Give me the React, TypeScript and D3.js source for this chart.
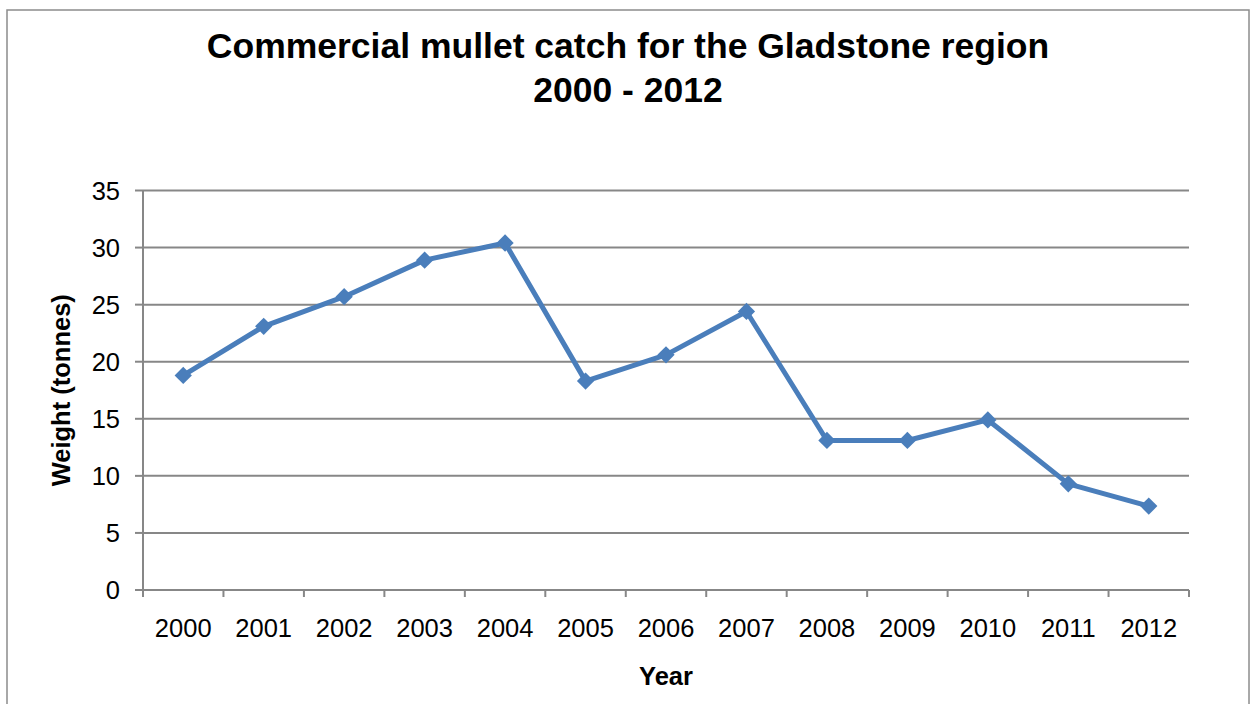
import React from "react";
import * as d3 from "d3";

const years = ["2000", "2001", "2002", "2003", "2004", "2005", "2006", "2007", "2008", "2009", "2010", "2011", "2012"];
const catchTonnes = [18.8, 23.1, 25.7, 28.9, 30.4, 18.3, 20.6, 24.4, 13.1, 13.1, 14.9, 9.3, 7.35];
const yTicks = [0, 5, 10, 15, 20, 25, 30, 35];
const titleLines = ["Commercial mullet catch for the Gladstone region", "2000 - 2012"];
const xTitle = "Year";
const yTitle = "Weight (tonnes)";

const W = 1250;
const H = 704;
const plot = { left: 143, right: 1189, top: 190.5, bottom: 590 };
const font = "'Liberation Sans', Arial, Helvetica, sans-serif";
const gridColor = "#878787";
const lineColor = "#4a7ebb";

export default function App() {
  const x = d3.scaleBand<string>().domain(years).range([plot.left, plot.right]).padding(0);
  const y = d3.scaleLinear().domain([0, 35]).range([plot.bottom, plot.top]);
  const cx = (yr: string) => (x(yr) as number) + x.bandwidth() / 2;

  const line = d3
    .line<number>()
    .x((_, i) => cx(years[i]))
    .y((v) => y(v));

  const diamond = d3.symbol().type(d3.symbolDiamond2).size(190)();

  const boundaries = [...years.map((yr) => x(yr) as number), plot.right];
  const plotMidX = (plot.left + plot.right) / 2;
  const plotMidY = (plot.top + plot.bottom) / 2;

  return (
    <svg
      width={W}
      height={H}
      style={{ position: "absolute", left: 0, top: 0, background: "#fff" }}
      fontFamily={font}
    >
      <rect x={7} y={10} width={1242} height={720} fill="#fff" stroke="#8c8c8c" strokeWidth={1.5} />

      {titleLines.map((t, i) => (
        <text key={t} x={628} y={58 + i * 43.5} textAnchor="middle" fontSize={35.5} fontWeight="bold" fill="#000">
          {t}
        </text>
      ))}

      {/* horizontal gridlines with left tick marks */}
      {yTicks.map((t) => (
        <g key={t}>
          {t > 0 && (
            <line x1={plot.left} x2={plot.right} y1={y(t)} y2={y(t)} stroke={gridColor} strokeWidth={2} />
          )}
          <line x1={plot.left - 8} x2={plot.left} y1={y(t)} y2={y(t)} stroke={gridColor} strokeWidth={2} />
          <text x={120} y={y(t) + 9} textAnchor="end" fontSize={25.5} fill="#000">
            {t}
          </text>
        </g>
      ))}

      {/* axes */}
      <line x1={plot.left} x2={plot.left} y1={plot.top} y2={plot.bottom} stroke={gridColor} strokeWidth={2} />
      <line x1={plot.left - 8} x2={plot.right} y1={plot.bottom} y2={plot.bottom} stroke={gridColor} strokeWidth={2} />
      {boundaries.map((b, i) => (
        <line key={i} x1={b} x2={b} y1={plot.bottom} y2={plot.bottom + 7} stroke={gridColor} strokeWidth={2} />
      ))}
      {years.map((yr) => (
        <text key={yr} x={cx(yr)} y={637} textAnchor="middle" fontSize={25.5} fill="#000">
          {yr}
        </text>
      ))}

      <text x={plotMidX} y={685} textAnchor="middle" fontSize={25.5} fontWeight="bold" fill="#000">
        {xTitle}
      </text>
      <text
        transform={`translate(70, ${plotMidY}) rotate(-90)`}
        textAnchor="middle"
        fontSize={25.5}
        fontWeight="bold"
        fill="#000"
      >
        {yTitle}
      </text>

      <path d={line(catchTonnes) || ""} fill="none" stroke={lineColor} strokeWidth={5} strokeLinejoin="round" />
      {catchTonnes.map((v, i) => (
        <path key={years[i]} d={diamond || ""} transform={`translate(${cx(years[i])}, ${y(v)})`} fill={lineColor} />
      ))}
    </svg>
  );
}
